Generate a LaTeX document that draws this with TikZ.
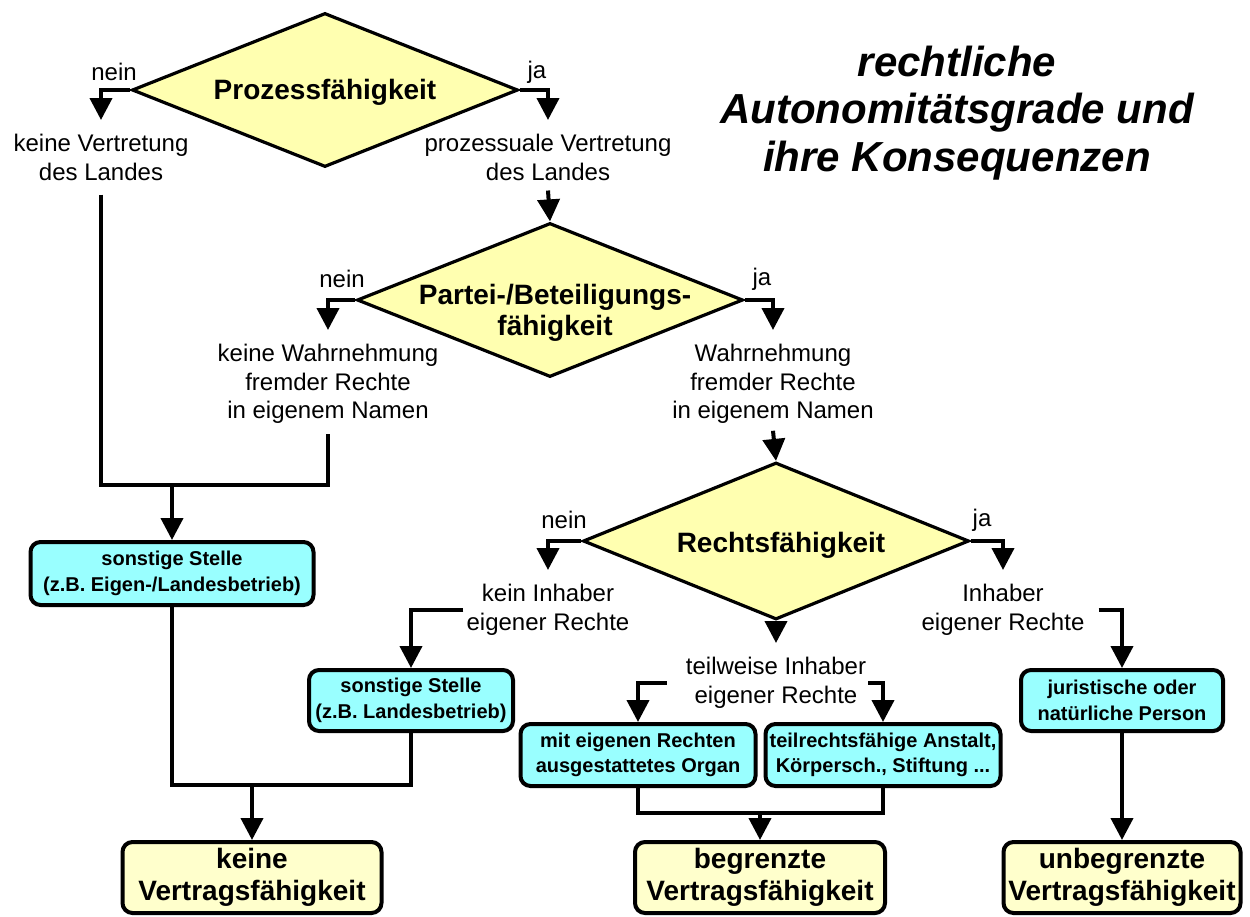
\documentclass[tikz,border=0pt]{standalone}
\usepackage{fontspec}
\setmainfont{Liberation Sans}
\usetikzlibrary{shapes.geometric,arrows.meta}
\definecolor{diafill}{HTML}{FFFFB0}
\definecolor{endfill}{HTML}{FFFFCC}
\definecolor{boxfill}{HTML}{99FFFF}
\begin{document}
\begin{tikzpicture}[x=1pt,y=-1pt,
  dia/.style={diamond, draw, line width=3.2pt, fill=diafill, inner sep=0pt,
    minimum width=386pt, minimum height=154pt},
  dialabel/.style={font=\fontsize{28}{31}\selectfont\bfseries, align=center},
  txt/.style={font=\fontsize{24}{28.5}\selectfont, align=center,
    inner xsep=2pt, inner ysep=14pt, anchor=north},
  yn/.style={font=\fontsize{24}{28}\selectfont, inner sep=0pt},
  cbox/.style={draw, line width=4pt, rounded corners=10pt, fill=boxfill,
    font=\fontsize{20}{25.5}\selectfont\bfseries, align=center, inner sep=0pt},
  ebox/.style={draw, line width=4pt, rounded corners=10pt, fill=endfill,
    font=\fontsize{28}{32}\selectfont\bfseries, align=center, inner sep=0pt},
  conn/.style={line width=4pt},
  arr/.style={conn, -{Triangle[length=22pt,width=22pt]}},
]
\useasboundingbox (0,0) rectangle (1250,916);

% title
\node[font=\fontsize{42}{47.5}\selectfont\bfseries\itshape, align=center]
  (title) at (957,113) {rechtliche\\Autonomitätsgrade und\\ihre Konsequenzen};

% decisions (the y axis points down, so a downward shift is a negative yshift)
\node[dia] (d1) at (325,90) {};
\node[dialabel] (d1t) at ([yshift=-2pt]d1.center) {Prozessfähigkeit};
\node[dia] (d2) at (550,300) {};
\node[dialabel] (d2t) at ([xshift=5pt,yshift=-13pt]d2.center) {Partei-/Beteiligungs-\\fähigkeit};
\node[dia, minimum height=157pt] (d3) at (776,541) {};
\node[dialabel] (d3t) at ([xshift=5pt,yshift=-4pt]d3.center) {Rechtsfähigkeit};

% yes / no labels
\node[yn] (n1) at (114,72) {nein};
\node[yn] (j1) at (537,72) {ja};
\node[yn] (n2) at (342,279) {nein};
\node[yn] (j2) at (762,279) {ja};
\node[yn] (n3) at (564,520) {nein};
\node[yn] (j3) at (982,520) {ja};

% outcome texts
\node[txt] (t1) at (101,120) {keine Vertretung\\des Landes};
\node[txt] (t2) at (548,120) {prozessuale Vertretung\\des Landes};
\node[txt] (t3) at (328,330) {keine Wahrnehmung\\fremder Rechte\\in eigenem Namen};
\node[txt] (t4) at (773,330) {Wahrnehmung\\fremder Rechte\\in eigenem Namen};
\node[txt] (t5) at (548,570) {kein Inhaber\\eigener Rechte};
\node[txt] (t6) at (1003,570) {Inhaber\\eigener Rechte};
\node[txt] (t7) at (776,643) {teilweise Inhaber\\eigener Rechte};

% institution boxes
\node[cbox, minimum width=283pt, minimum height=63pt] (b1) at (172,573.5)
  {sonstige Stelle\\(z.B. Eigen-/Landesbetrieb)};
\node[cbox, minimum width=204pt, minimum height=61pt] (b2) at (411,700.5)
  {sonstige Stelle\\(z.B. Landesbetrieb)};
\node[cbox, minimum width=235pt, minimum height=62pt] (b3) at (638,755)
  {mit eigenen Rechten\\ausgestattetes Organ};
\node[cbox, minimum width=235pt, minimum height=62pt] (b4) at (883,755)
  {teilrechtsfähige Anstalt,\\Körpersch., Stiftung ...};
\node[cbox, minimum width=202pt, minimum height=61pt] (b7) at (1122,700.5)
  {juristische oder\\natürliche Person};

% results
\node[ebox, minimum width=259pt, minimum height=71pt] (b5) at (252,877.5)
  {keine\\Vertragsfähigkeit};
\node[ebox, minimum width=250pt, minimum height=71pt] (b6) at (760,877.5)
  {begrenzte\\Vertragsfähigkeit};
\node[ebox, minimum width=237pt, minimum height=71pt] (b8) at (1122,877.5)
  {unbegrenzte\\Vertragsfähigkeit};

% junction points
\coordinate (m1) at (172,485);
\coordinate (m2) at (252,785);
\coordinate (m3) at (760,813);

% decision branches
\draw[arr] (d1.west) -| (t1.north);
\draw[arr] (d1.east) -| (t2.north);
\draw[arr] ([yshift=4pt]t2.south) -- (d2.north);
\draw[arr] (d2.west) -| (t3.north);
\draw[arr] (d2.east) -| (t4.north);
\draw[arr] ([yshift=7pt]t4.south) -- (d3.north);
\draw[arr] (d3.west) -| (t5.north);
\draw[arr] (d3.east) -| (t6.north);
\draw[arr] (d3.south) -- (t7.north);

% left column
\draw[conn] (t1.south) |- (m1) -| ([yshift=4pt]t3.south);
\draw[arr] (m1) -- (b1.north);
\draw[arr] ([xshift=-1pt]t5.west) -| (b2.north);
\draw[conn] (b1.south) |- (m2) -| (b2.south);
\draw[arr] (m2) -- (b5.north);

% middle column
\draw[arr] ([xshift=-17pt]t7.west) -| (b3.north);
\draw[arr] (t7.east) -| (b4.north);
\draw[conn] (b3.south) |- (m3) -| (b4.south);
\draw[arr] (m3) -- (b6.north);

% right column
\draw[arr] ([xshift=12pt]t6.east) -| (b7.north);
\draw[arr] (b7.south) -- (b8.north);
\end{tikzpicture}
\end{document}
